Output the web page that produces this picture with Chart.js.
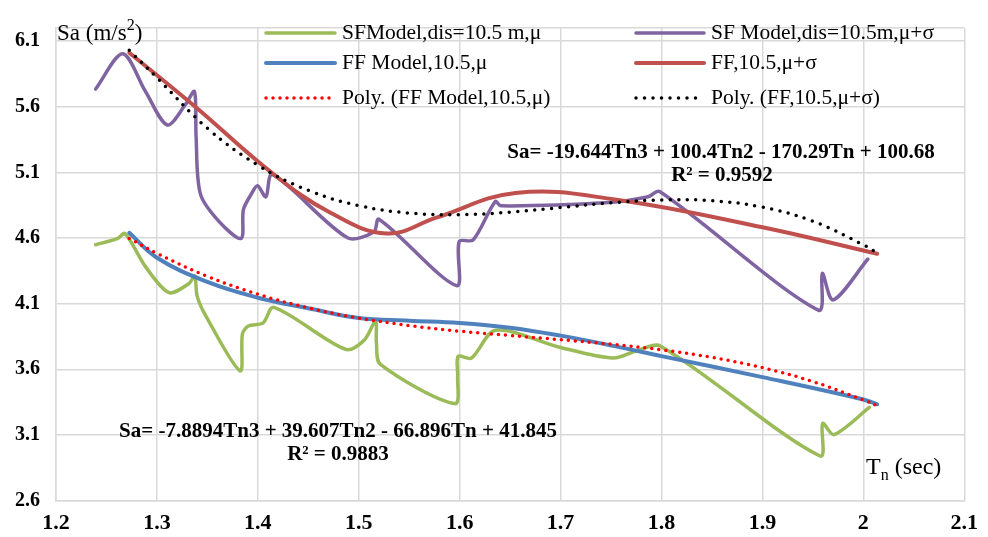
<!DOCTYPE html>
<html>
<head>
<meta charset="utf-8">
<script src="https://cdn.jsdelivr.net/npm/chart.js@4.4.1/dist/chart.umd.min.js"></script>
<style>
  html, body { margin: 0; padding: 0; background: #ffffff; }
  #wrap { width: 988px; height: 537px; }
</style>
</head>
<body>
<div id="wrap"><canvas id="c" width="988" height="537"></canvas></div>
<script>
// Axis ticks
const xTicks = [1.2, 1.3, 1.4, 1.5, 1.6, 1.7, 1.8, 1.9, 2.0, 2.1];
const yTicks = [2.6, 3.1, 3.6, 4.1, 4.6, 5.1, 5.6, 6.1];

// Series names (legend order)
const seriesNames = [
  'SFModel,dis=10.5 m,\u03bc',
  'SF Model,dis=10.5m,\u03bc+\u03c3',
  'FF Model,10.5,\u03bc',
  'FF,10.5,\u03bc+\u03c3',
  'Poly. (FF Model,10.5,\u03bc)',
  'Poly. (FF,10.5,\u03bc+\u03c3)'
];

// SF model, mean
const sfMuPeriod = [1.2393, 1.2612, 1.2684, 1.289, 1.312, 1.3316, 1.3375, 1.3398, 1.348, 1.3824,
  1.3847, 1.3906, 1.4053, 1.4158, 1.4871, 1.5052, 1.5166, 1.5175, 1.5215,
  1.5952, 1.598, 1.5985, 1.6116, 1.6355, 1.698, 1.752, 1.7755, 1.7992, 1.957,
  1.9597, 1.9708, 2.006];
const sfMuSa = [4.549, 4.597, 4.634, 4.378, 4.184, 4.252, 4.31, 4.159, 4.013, 3.588,
  3.868, 3.929, 3.953, 4.072, 3.751, 3.82, 3.965, 3.80, 3.637,
  3.338, 3.55, 3.698, 3.685, 3.897, 3.77, 3.685, 3.741, 3.776, 2.939,
  3.187, 3.102, 3.309];

// SF model, mean + sigma
const sfSigPeriod = [1.2393, 1.2661, 1.2887, 1.3103, 1.3284, 1.3372, 1.3388, 1.343, 1.361, 1.3834,
  1.3857, 1.3938, 1.3997, 1.408, 1.4144, 1.4888, 1.515, 1.52, 1.5969,
  1.5995, 1.6133, 1.6352, 1.641, 1.7475, 1.7867, 1.7982, 1.9554, 1.9593, 1.9701,
  2.0045];
const sfSigSa = [5.735, 6.003, 5.716, 5.461, 5.618, 5.716, 5.375, 4.938, 4.731, 4.597,
  4.816, 4.938, 4.998, 4.914, 5.084, 4.602, 4.646, 4.743, 4.237,
  4.573, 4.585, 4.877, 4.845, 4.87, 4.914, 4.954, 4.05, 4.33, 4.128,
  4.44];

// FF model, mean
const ffMuPeriod = [1.2726, 1.3, 1.35, 1.4, 1.45, 1.5, 1.55, 1.6, 1.65, 1.7, 1.7536, 1.8, 1.9, 2.0, 2.0137];
const ffMuSa = [4.64, 4.45, 4.265, 4.145, 4.065, 3.99, 3.97, 3.953, 3.917, 3.856, 3.776, 3.70, 3.54, 3.37, 3.333];

// FF model, mean + sigma
const ffSigPeriod = [1.2726, 1.338, 1.4133, 1.472, 1.5278, 1.5769, 1.6554, 1.7536, 1.9, 2.0137];
const ffSigSa = [6.012, 5.60, 5.10, 4.792, 4.634, 4.755, 4.943, 4.894, 4.682, 4.48];

// Cubic trend lines
const trendPeriod = [1.2726, 1.30, 1.35, 1.40, 1.45, 1.50, 1.55, 1.60, 1.65, 1.70, 1.75, 1.80, 1.85, 1.90, 1.95, 2.00, 2.0137];
const trendMuSa = [4.597, 4.483, 4.308, 4.172, 4.068, 3.990, 3.933, 3.890, 3.857, 3.825, 3.791, 3.748, 3.690, 3.612, 3.506, 3.366, 3.323];
const trendSigSa = [6.03, 5.821, 5.436, 5.155, 4.963, 4.847, 4.790, 4.778, 4.797, 4.832, 4.868, 4.890, 4.884, 4.835, 4.728, 4.548, 4.487];

// Trend equations
const trendSigEq = ['Sa= -19.644Tn3 + 100.4Tn2 - 170.29Tn + 100.68', 'R\u00b2 = 0.9592'];
const trendMuEq = ['Sa= -7.8894Tn3 + 39.607Tn2 - 66.896Tn + 41.845', 'R\u00b2 = 0.9883'];

const SERIF = '"Liberation Serif", "Times New Roman", serif';
const GRID = '#d9d9d9';

const toPoints = (xs, ys) => xs.map((x, i) => ({ x: x, y: ys[i] }));

const styles = [
  { color: '#9BBB59', width: 3.5, dash: [] },
  { color: '#8064A2', width: 3.5, dash: [] },
  { color: '#4F81BD', width: 4, dash: [] },
  { color: '#C0504D', width: 4, dash: [] },
  { color: '#FF0000', width: 3.5, dash: [0, 7] },
  { color: '#000000', width: 3.5, dash: [0, 8.5] }
];

function lineDataset(i, pts, tension, order) {
  const s = styles[i];
  return {
    label: seriesNames[i],
    data: pts,
    showLine: true,
    borderColor: s.color,
    backgroundColor: s.color,
    borderWidth: s.width,
    borderDash: s.dash,
    borderCapStyle: 'round',
    borderJoinStyle: 'round',
    pointRadius: 0,
    pointHoverRadius: 0,
    tension: tension,
    order: order
  };
}

// Legend, axis titles and trend equations drawn on the canvas
const annotations = {
  id: 'annotations',
  afterDatasetsDraw(chart) {
    const ctx = chart.ctx;
    ctx.save();
    ctx.fillStyle = '#000';
    ctx.textBaseline = 'middle';

    // y axis title with superscript
    ctx.textAlign = 'left';
    ctx.font = '23px ' + SERIF;
    let x = 57;
    const yT = 34;
    ctx.fillText('Sa (m/s', x, yT);
    x += ctx.measureText('Sa (m/s').width;
    ctx.font = '16px ' + SERIF;
    ctx.fillText('2', x, yT - 8);
    x += ctx.measureText('2').width;
    ctx.font = '23px ' + SERIF;
    ctx.fillText(')', x, yT);

    // x axis title with subscript
    ctx.font = '24px ' + SERIF;
    x = 866;
    const yX = 468;
    ctx.fillText('T', x, yX);
    x += ctx.measureText('T').width;
    ctx.font = '16px ' + SERIF;
    ctx.fillText('n', x, yX + 8);
    x += ctx.measureText('n').width;
    ctx.font = '24px ' + SERIF;
    ctx.fillText(' (sec)', x, yX);

    // legend
    const cols = [{ x0: 266, x1: 335, tx: 342 }, { x0: 636, x1: 704, tx: 711 }];
    const rows = [33, 63, 98];
    ctx.font = '21.5px ' + SERIF;
    for (let i = 0; i < seriesNames.length; i++) {
      const c = cols[i % 2];
      const r = rows[Math.floor(i / 2)];
      const s = styles[i];
      ctx.save();
      ctx.strokeStyle = s.color;
      ctx.lineWidth = s.width;
      ctx.lineCap = 'round';
      ctx.setLineDash(s.dash);
      ctx.beginPath();
      ctx.moveTo(c.x0, r);
      ctx.lineTo(c.x1, r);
      ctx.stroke();
      ctx.restore();
      ctx.fillText(seriesNames[i], c.tx, r);
    }

    // trend equations
    ctx.textAlign = 'center';
    ctx.font = 'bold 21px ' + SERIF;
    ctx.fillText(trendSigEq[0], 721, 153);
    ctx.fillText(trendSigEq[1], 722, 176);
    ctx.fillText(trendMuEq[0], 338, 432);
    ctx.fillText(trendMuEq[1], 338, 455);
    ctx.restore();
  }
};

const fmt = v => String(Number(Number(v).toFixed(1)));

new Chart(document.getElementById('c'), {
  type: 'scatter',
  data: {
    datasets: [
      lineDataset(0, toPoints(sfMuPeriod, sfMuSa), 0.3, 4),
      lineDataset(1, toPoints(sfSigPeriod, sfSigSa), 0.3, 4),
      lineDataset(2, toPoints(ffMuPeriod, ffMuSa), 0.4, 2),
      lineDataset(3, toPoints(ffSigPeriod, ffSigSa), 0.4, 2),
      lineDataset(4, toPoints(trendPeriod, trendMuSa), 0.4, 0),
      lineDataset(5, toPoints(trendPeriod, trendSigSa), 0.4, 0)
    ]
  },
  options: {
    responsive: false,
    animation: false,
    events: [],
    layout: { padding: { top: 7, right: 16, left: 0, bottom: 0 } },
    plugins: { legend: { display: false }, tooltip: { enabled: false } },
    scales: {
      x: {
        type: 'linear',
        min: 1.2,
        max: 2.1,
        afterBuildTicks: s => { s.ticks = xTicks.map(v => ({ value: v })); },
        afterFit: s => { s.height = 36.5; },
        grid: { color: GRID, lineWidth: 1.5, drawTicks: false },
        border: { color: GRID, width: 1.5 },
        ticks: {
          color: '#000',
          padding: 10,
          maxRotation: 0,
          autoSkip: false,
          font: { family: SERIF, size: 22, weight: 'bold' },
          callback: v => fmt(v)
        }
      },
      y: {
        type: 'linear',
        min: 2.6,
        max: 6.2,
        afterBuildTicks: s => { s.ticks = yTicks.concat([6.2]).map(v => ({ value: v })); },
        afterFit: s => { s.width = 56; },
        grid: { color: GRID, lineWidth: 1.5, drawTicks: false },
        border: { color: GRID, width: 1.5 },
        ticks: {
          color: '#000',
          padding: 16,
          autoSkip: false,
          font: { family: SERIF, size: 20, weight: 'bold' },
          callback: v => (v > 6.15 ? '' : fmt(v))
        }
      }
    }
  },
  plugins: [annotations]
});
</script>
</body>
</html>
